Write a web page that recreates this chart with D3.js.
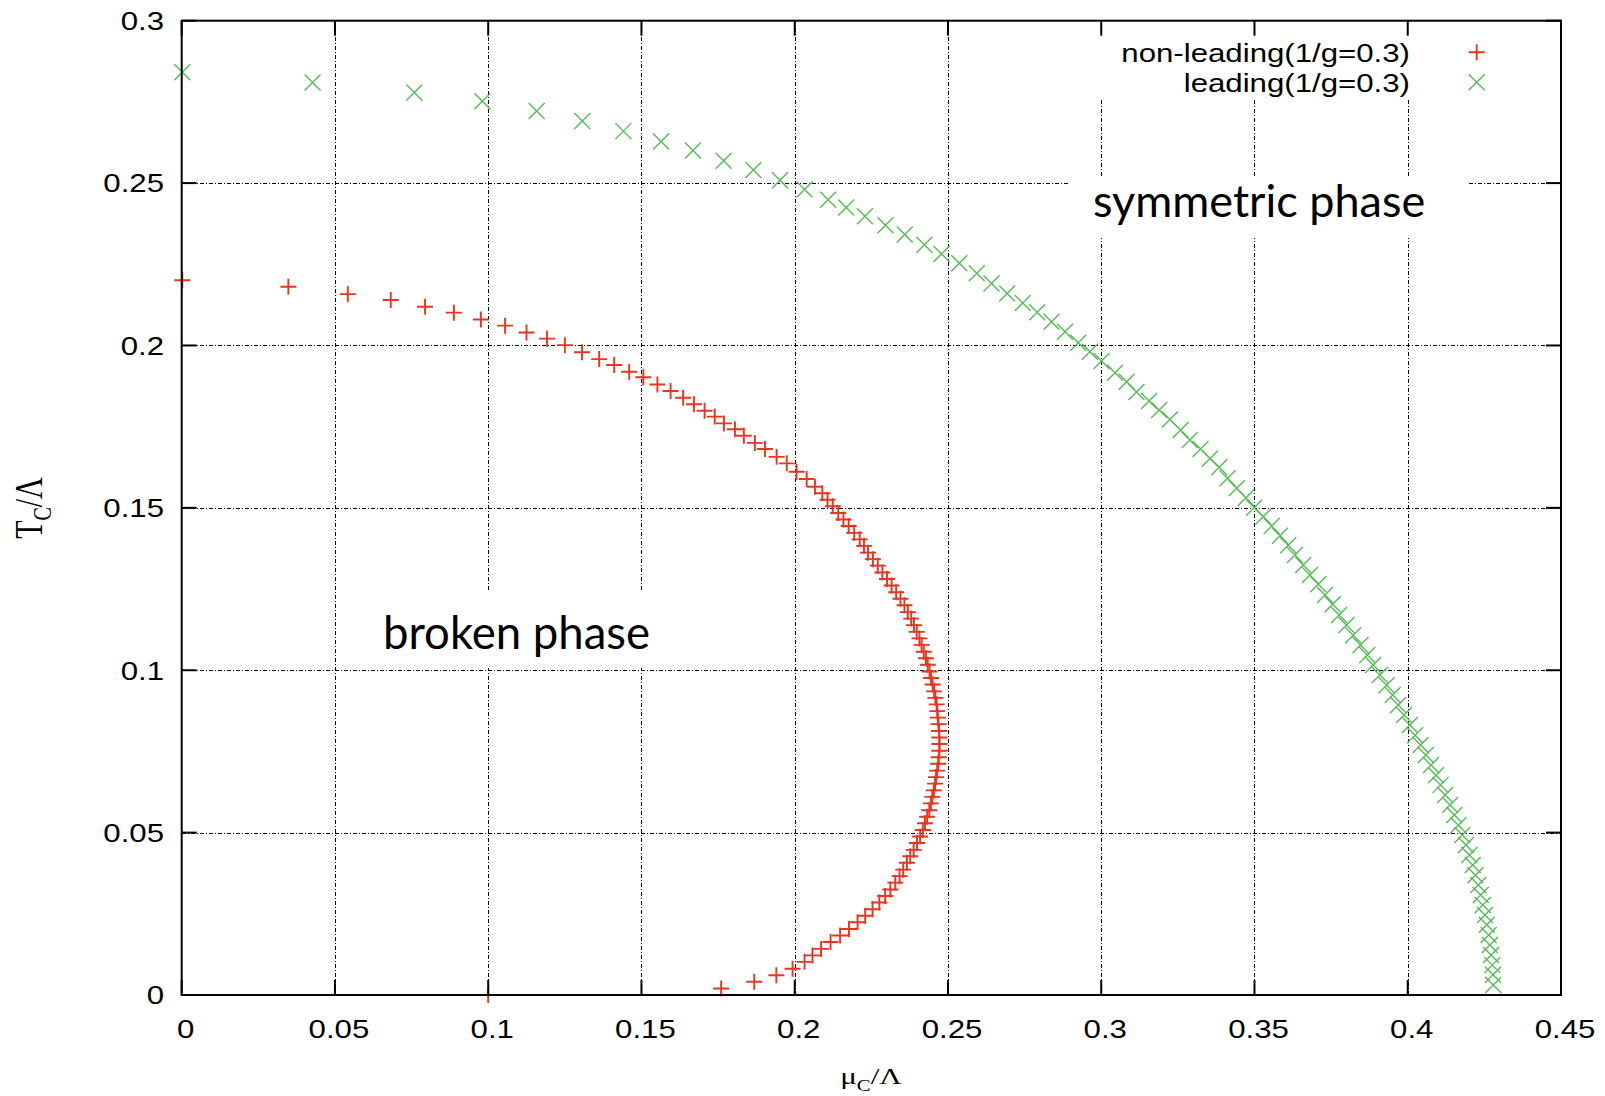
<!DOCTYPE html>
<html><head><meta charset="utf-8">
<script src="https://cdn.jsdelivr.net/npm/d3@7"></script>
<style>body{margin:0;background:#fff;} svg{display:block;}</style>
</head><body>
<script>
// ---------- data ----------
const xTicks = [0, 0.05, 0.1, 0.15, 0.2, 0.25, 0.3, 0.35, 0.4, 0.45];
const xTickLabels = ["0", "0.05", "0.1", "0.15", "0.2", "0.25", "0.3", "0.35", "0.4", "0.45"];
const yTicks = [0, 0.05, 0.1, 0.15, 0.2, 0.25, 0.3];
const yTickLabels = ["0", "0.05", "0.1", "0.15", "0.2", "0.25", "0.3"];
const seriesNames = ["non-leading(1/g=0.3)", "leading(1/g=0.3)"];
const annotationTexts = ["symmetric phase", "broken phase"];

// non-leading (red +): mu_C/Lambda and T_C/Lambda
const nonLeadingMu = [
  0.0002,0.0348,0.0542,0.0682,0.0794,0.0888,0.0976,0.1055,0.1125,0.1192,0.1250,0.1306,0.1362,0.1411,0.1460,0.1506,0.1552,0.1595,0.1636,0.1671,0.1706,0.1739,0.1769,0.1805,0.1834,0.1870,0.1903,0.1941,0.1974,0.2006,0.2039,0.2066,0.2090,
  0.2107,0.2124,0.2142,0.2159,0.2176,0.2194,0.2212,0.2226,0.2239,0.2255,
  0.2271,0.2286,0.2301,0.2316,0.2331,0.2345,0.2358,0.2369,0.2380,0.2389,
  0.2398,0.2407,0.2414,0.2421,0.2428,0.2434,0.2440,0.2445,0.2450,0.2455,
  0.2459,0.2463,0.2465,0.2467,0.2469,0.2471,0.2472,0.2472,0.2472,0.2470,
  0.2468,0.2465,0.2461,0.2458,0.2454,0.2449,0.2444,0.2439,0.2432,0.2425,
  0.2418,0.2409,0.2399,0.2388,0.2377,0.2366,0.2354,0.2342,0.2328,0.2312,
  0.2295,0.2276,0.2254,0.2230,0.2205,0.2177,0.2148,0.2117,0.2086,0.2058,
  0.2032,0.1993,0.1940,0.1868,0.1760,
  0.1000
];
const nonLeadingT = [
  0.2201,0.2181,0.2158,0.2140,0.2119,0.2101,0.2080,0.2061,0.2040,0.2021,0.2001,0.1979,0.1958,0.1940,0.1919,0.1902,0.1880,0.1860,0.1839,0.1819,0.1799,0.1781,0.1760,0.1742,0.1722,0.1700,0.1681,0.1657,0.1637,0.1611,0.1589,0.1565,0.1545,
  0.1525,0.1505,0.1484,0.1464,0.1444,0.1423,0.1403,0.1383,0.1362,0.1342,
  0.1322,0.1301,0.1281,0.1261,0.1240,0.1220,0.1200,0.1179,0.1159,0.1139,
  0.1118,0.1098,0.1078,0.1057,0.1037,0.1017,0.0996,0.0976,0.0956,0.0935,
  0.0915,0.0895,0.0874,0.0854,0.0834,0.0813,0.0793,0.0773,0.0752,0.0732,
  0.0712,0.0691,0.0671,0.0651,0.0630,0.0610,0.0590,0.0569,0.0549,0.0529,
  0.0508,0.0488,0.0468,0.0447,0.0427,0.0407,0.0386,0.0366,0.0346,0.0325,
  0.0305,0.0285,0.0264,0.0244,0.0224,0.0203,0.0183,0.0163,0.0142,0.0122,
  0.0102,0.0081,0.0061,0.0041,0.0020,
  0.0000
];

// leading (green x)
const leadingMu = [
  0.0002,0.0427,0.0759,0.0981,0.1158,0.1307,0.1441,0.1564,0.1668,0.1768,
  0.1865,0.1952,0.2032,0.2109,0.2168,0.2229,0.2296,0.2359,0.2423,0.2479,
  0.2537,0.2594,0.2642,0.2693,0.2744,0.2791,0.2838,0.2882,0.2925,0.2963,
  0.3001,0.3045,0.3083,0.3115,0.3156,0.3189,0.3224,0.3259,0.3289,0.3324,
  0.3355,0.3385,0.3412,0.3442,0.3472,0.3499,0.3529,0.3556,0.3583,0.3610,
  0.3632,0.3659,0.3681,0.3708,0.3730,0.3755,0.3776,0.3800,0.3822,0.3846,
  0.3868,0.3887,0.3909,0.3931,0.3951,0.3969,0.3988,0.4007,0.4024,0.4042,
  0.4059,0.4076,0.4092,0.4107,0.4122,0.4138,0.4152,0.4165,0.4178,0.4190,
  0.4201,0.4212,0.4221,0.4230,0.4238,0.4245,0.4252,0.4258,0.4264,0.4268,
  0.4272,0.4276,0.4278,0.4279
];
const leadingT = [
  0.2841,0.2810,0.2779,0.2752,0.2722,0.2691,0.2660,0.2628,0.2600,0.2569,
  0.2540,0.2509,0.2480,0.2449,0.2425,0.2398,0.2370,0.2342,0.2310,0.2282,
  0.2253,0.2222,0.2191,0.2160,0.2131,0.2102,0.2073,0.2042,0.2008,0.1981,
  0.1952,0.1916,0.1888,0.1857,0.1829,0.1801,0.1772,0.1740,0.1709,0.1681,
  0.1652,0.1625,0.1591,0.1560,0.1531,0.1500,0.1473,0.1444,0.1414,0.1385,
  0.1355,0.1324,0.1293,0.1265,0.1232,0.1203,0.1170,0.1139,0.1108,0.1078,
  0.1047,0.1016,0.0985,0.0954,0.0924,0.0893,0.0862,0.0831,0.0800,0.0770,
  0.0739,0.0708,0.0677,0.0647,0.0616,0.0585,0.0554,0.0523,0.0493,0.0462,
  0.0431,0.0400,0.0369,0.0339,0.0308,0.0277,0.0246,0.0216,0.0185,0.0154,
  0.0123,0.0092,0.0062,0.0031
];

// ---------- layout ----------
const W = 1605, H = 1096;
const PL = 181.7, PR = 1561, PT = 20.7, PB = 995;
const RED = "#e8351f", GREEN = "#55bb55";
const SANS = "'Liberation Sans', Arial, sans-serif";
const SERIF = "'Liberation Serif', 'Times New Roman', serif";
const STRETCH = 1.2;   // horizontal stretch of the gnuplot lettering
const MK = 8;          // marker half size

const x = d3.scaleLinear().domain([0, 0.45]).range([PL, PR]);
const y = d3.scaleLinear().domain([0, 0.3]).range([PB, PT]);

const svg = d3.select("body").append("svg").attr("width", W).attr("height", H);
svg.append("rect").attr("width", W).attr("height", H).attr("fill", "#fff");

// grid
const grid = svg.append("g").attr("stroke", "#000").attr("stroke-width", 1)
  .attr("stroke-dasharray", "4,2,1,2").attr("shape-rendering", "crispEdges");
grid.selectAll("line.gx").data(xTicks.filter(v => v > 0 && v < 0.45)).join("line")
  .attr("class", "gx")
  .attr("x1", d => Math.round(x(d)) + 0.5).attr("x2", d => Math.round(x(d)) + 0.5)
  .attr("y1", PB).attr("y2", PT);
grid.selectAll("line.gy").data(yTicks.filter(v => v > 0 && v < 0.3)).join("line")
  .attr("class", "gy")
  .attr("y1", d => Math.round(y(d)) + 0.5).attr("y2", d => Math.round(y(d)) + 0.5)
  .attr("x1", PL).attr("x2", PR);

// white areas (key and text boxes) hiding the grid
const masks = [
  {x0: 1090, y0: 22, x1: 1559, y1: 98},
  {x0: 1070, y0: 176, x1: 1469, y1: 238},
  {x0: 360, y0: 591, x1: 660, y1: 668}
];
svg.append("g").selectAll("rect").data(masks).join("rect")
  .attr("x", d => d.x0).attr("y", d => d.y0)
  .attr("width", d => d.x1 - d.x0).attr("height", d => d.y1 - d.y0)
  .attr("fill", "#fff");

// markers
const plusPath = (cx, cy) => `M${cx - MK},${cy}H${cx + MK}M${cx},${cy - MK}V${cy + MK}`;
const crossPath = (cx, cy) => `M${cx - MK},${cy - MK}L${cx + MK},${cy + MK}M${cx - MK},${cy + MK}L${cx + MK},${cy - MK}`;

const redData = nonLeadingMu.map((m, i) => ({m, t: nonLeadingT[i]}));
const greenData = leadingMu.map((m, i) => ({m, t: leadingT[i]}));

svg.append("g").selectAll("path").data(greenData).join("path")
  .attr("d", d => crossPath(x(d.m), y(d.t)))
  .attr("stroke", GREEN).attr("stroke-width", 1.4).attr("fill", "none");
svg.append("g").selectAll("path").data(redData).join("path")
  .attr("d", d => plusPath(x(d.m), y(d.t)))
  .attr("stroke", RED).attr("stroke-width", 1.9).attr("fill", "none");

// border
svg.append("rect").attr("x", PL).attr("y", PT).attr("width", PR - PL).attr("height", PB - PT)
  .attr("fill", "none").attr("stroke", "#000").attr("stroke-width", 2);

// ticks (inward, mirrored)
const TL = 15;
const ticks = svg.append("g").attr("stroke", "#000").attr("stroke-width", 2);
xTicks.forEach(v => {
  ticks.append("line").attr("x1", x(v)).attr("x2", x(v)).attr("y1", PB).attr("y2", PB - TL);
  ticks.append("line").attr("x1", x(v)).attr("x2", x(v)).attr("y1", PT).attr("y2", PT + TL);
});
yTicks.forEach(v => {
  ticks.append("line").attr("y1", y(v)).attr("y2", y(v)).attr("x1", PL).attr("x2", PL + TL);
  ticks.append("line").attr("y1", y(v)).attr("y2", y(v)).attr("x1", PR).attr("x2", PR - TL);
});

// tick labels
const FS = 26;
svg.append("g").selectAll("text").data(xTicks).join("text")
  .attr("transform", (d, i) => `translate(${x(d) + 4},1038) scale(${STRETCH},1)`)
  .attr("text-anchor", "middle").attr("font-family", SANS).attr("font-size", FS)
  .attr("fill", "#000").text((d, i) => xTickLabels[i]);
svg.append("g").selectAll("text").data(yTicks).join("text")
  .attr("transform", (d, i) => `translate(164,${y(d) + 9.3}) scale(${STRETCH},1)`)
  .attr("text-anchor", "end").attr("font-family", SANS).attr("font-size", FS)
  .attr("fill", "#000").text((d, i) => yTickLabels[i]);

// legend
const legendRows = [
  {name: seriesNames[0], baseline: 61.7, cy: 52.3, color: RED, path: plusPath, sw: 1.9},
  {name: seriesNames[1], baseline: 91.7, cy: 82.3, color: GREEN, path: crossPath, sw: 1.4}
];
legendRows.forEach(r => {
  svg.append("text").attr("transform", `translate(1410,${r.baseline}) scale(${STRETCH},1)`)
    .attr("text-anchor", "end").attr("font-family", SANS).attr("font-size", FS)
    .attr("fill", "#000").text(r.name);
  svg.append("path").attr("d", r.path(1476.7, r.cy)).attr("stroke", r.color)
    .attr("stroke-width", r.sw).attr("fill", "none");
});

// axis titles
const xt = svg.append("text").attr("transform", `translate(871,1084) scale(${STRETCH * 1.08},1)`)
  .attr("text-anchor", "middle").attr("font-family", SERIF).attr("font-size", 24).attr("fill", "#000");
xt.append("tspan").text("\u03bc");
xt.append("tspan").attr("font-size", 16).attr("dy", 7).text("C");
xt.append("tspan").attr("dy", -7).text("/\u039b");

const yt = svg.append("text").attr("transform", `translate(42,508) rotate(-90) scale(1,1.3)`)
  .attr("text-anchor", "middle").attr("font-family", SERIF).attr("font-size", 30).attr("fill", "#000");
yt.append("tspan").text("T");
yt.append("tspan").attr("font-size", 20).attr("dy", 7).text("C");
yt.append("tspan").attr("dy", -7).text("/\u039b");

// annotations
svg.append("text").attr("x", 1093).attr("y", 217).attr("font-family", "Lato, 'Open Sans', sans-serif")
  .attr("font-size", 45).attr("fill", "#000").text(annotationTexts[0]);
svg.append("text").attr("x", 383).attr("y", 649).attr("font-family", "Lato, 'Open Sans', sans-serif")
  .attr("font-size", 45.5).attr("fill", "#000").text(annotationTexts[1]);
</script>
</body></html>
